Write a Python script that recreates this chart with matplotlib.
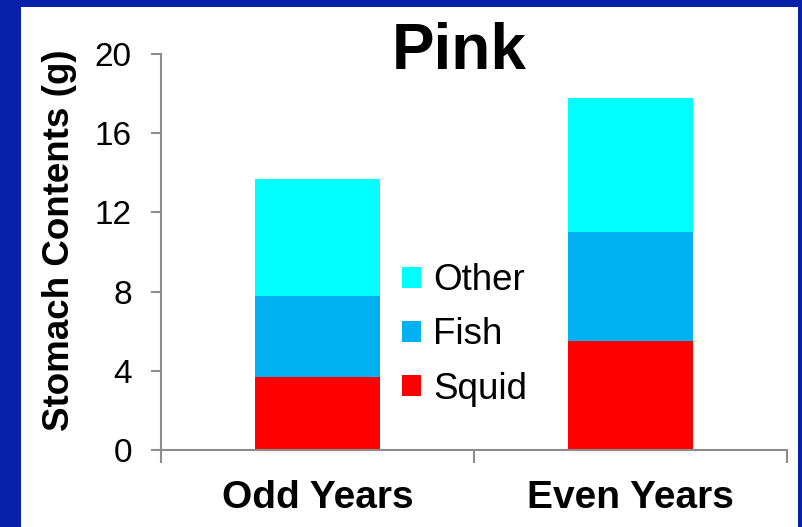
import matplotlib
matplotlib.use("Agg")
import matplotlib.pyplot as plt
from matplotlib.patches import Rectangle, Patch
import numpy as np

plt.rcParams['font.family'] = ['Liberation Sans', 'DejaVu Sans']

categories = ["Odd Years", "Even Years"]
squid = [3.7, 5.5]
fish = [4.1, 5.5]
other = [5.9, 6.8]
yticks = [0, 4, 8, 12, 16, 20]
colors = {"Squid": "#FF0000", "Fish": "#00B0F0", "Other": "#00FFFF"}

W, H = 803, 527
fig = plt.figure(figsize=(W / 100, H / 100), dpi=100)
fig.patch.set_facecolor("#0521AA")
fig.patches.append(Rectangle((21 / W, 0), (798 - 21) / W, (527 - 7) / H,
                             transform=fig.transFigure, facecolor="white",
                             edgecolor="none", zorder=-10))

ax = fig.add_axes([161 / W, (H - 450) / H, (787 - 161) / W, (450 - 54) / H])
ax.set_zorder(1)
ax.set_facecolor("none")
x = np.arange(len(categories))
w = 0.4
b1 = np.array(squid)
b2 = b1 + np.array(fish)
ax.bar(x, squid, w, color=colors["Squid"], label="Squid")
ax.bar(x, fish, w, bottom=b1, color=colors["Fish"], label="Fish")
ax.bar(x, other, w, bottom=b2, color=colors["Other"], label="Other")

ax.set_xlim(-0.5, 1.5)
ax.set_ylim(0, 20)
ax.set_yticks(yticks)
ax.set_yticklabels([str(v) for v in yticks], fontsize=24)
ax.set_xticks(x)
ax.set_xticklabels(categories, fontsize=28, fontweight="bold")
ax.set_xticks([-0.5, 0.5, 1.5], minor=True)
ax.tick_params(axis="x", which="major", length=0, pad=21.5)
ax.tick_params(axis="x", which="minor", length=9.4, width=1.5, color="#8C8C8C", direction="out")
ax.tick_params(axis="y", length=7, width=1.5, color="#8C8C8C", pad=14)
for s in ["top", "right"]:
    ax.spines[s].set_visible(False)
for s in ["left", "bottom"]:
    ax.spines[s].set_color("#8C8C8C")
    ax.spines[s].set_linewidth(1.5)

ax.set_ylabel("Stomach Contents (g)", fontsize=26.5, fontweight="bold", labelpad=13)
ax.yaxis.label.set_y(0.53)
fig.text(459 / W, (H - 52) / H, "Pink", fontsize=46, fontweight="bold",
         ha="center", va="center")

handles = [Patch(facecolor=colors[k], edgecolor="none") for k in ["Other", "Fish", "Squid"]]
fig.legend(handles, ["Other", "Fish", "Squid"], loc="center left",
           bbox_to_anchor=(402 / W, (H - 335) / H), frameon=False,
           fontsize=26.5, handlelength=0.52, handleheight=0.52, handletextpad=0.33,
           labelspacing=0.52, borderpad=0, borderaxespad=0)

fig.savefig("out.png", dpi=100)
